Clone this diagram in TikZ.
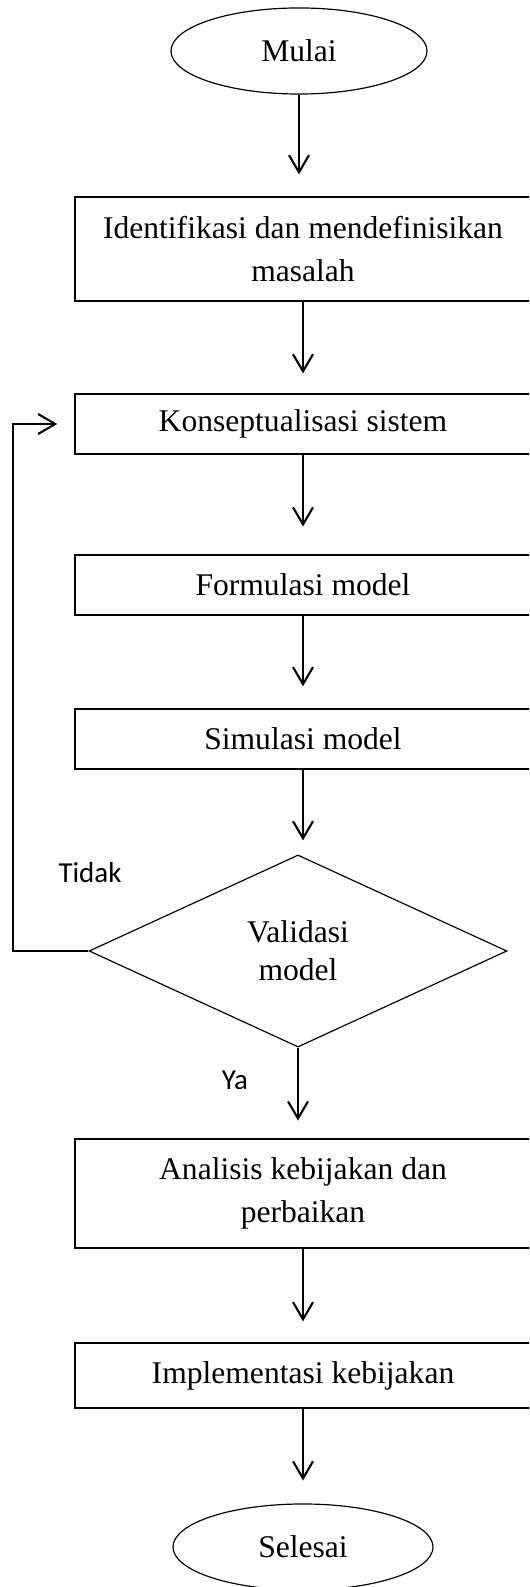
\documentclass[tikz,border=0pt]{standalone}
\usepackage{fontspec}
\setmainfont{Liberation Serif}
\newfontfamily\labelfont{Carlito}
\usetikzlibrary{shapes.geometric,arrows.meta}

\tikzset{
  proses/.style={draw, line width=0.45pt, rectangle, minimum width=173.3pt, align=center, inner sep=0pt, font=\fontsize{12}{16.3}\selectfont},
  terminal/.style={draw, line width=0.45pt, ellipse, minimum width=97.3pt, minimum height=32.7pt, font=\fontsize{12}{14}\selectfont},
  keputusan/.style={draw, line width=0.45pt, diamond, minimum width=158.8pt, minimum height=73pt, align=center, inner sep=0pt, font=\fontsize{12}{14.4}\selectfont},
  alur/.style={line width=0.8pt, -{Straight Barb[length=6.5pt,width=7.6pt]}},
  keterangan/.style={font=\labelfont\fontsize{11}{13}\selectfont}
}

\begin{document}
\begin{tikzpicture}[x=0.38pt, y=-0.38pt]
    \useasboundingbox (0,0) rectangle (529,1587);
    \clip (0,0) rectangle (529,1587);

    % Awal dan akhir
    \node[terminal] (mulai) at (299,51) {Mulai};
    \node[terminal, minimum width=98.8pt] (selesai) at (303,1547) {Selesai};

    % Tahapan
    \node[proses, minimum height=39.5pt] (identifikasi) at (303,249) {Identifikasi dan mendefinisikan\\masalah};
    \node[proses, minimum height=22.8pt] (konsep) at (303,424) {Konseptualisasi sistem};
    \node[proses, minimum height=22.8pt] (formulasi) at (303,585) {Formulasi model};
    \node[proses, minimum height=22.8pt] (simulasi) at (303,739) {Simulasi model};
    \node[keputusan] (validasi) at (298,951) {Validasi\\model};
    \node[proses, minimum height=41.4pt] (analisis) at (303,1193.5) {Analisis kebijakan dan\\perbaikan};
    \node[proses, minimum height=24.7pt] (implementasi) at (303,1375.5) {Implementasi kebijakan};

    % Keterangan cabang
    \node[keterangan] (tidak) at (90,873) {Tidak};
    \node[keterangan] (ya) at (235,1080) {Ya};

    % Panah ke bawah
    \foreach \a/\b/\s in {mulai/identifikasi/8.4, identifikasi/konsep/7.6,
        konsep/formulasi/10.6, formulasi/simulasi/8.4, simulasi/validasi/5.3,
        validasi/analisis/6.8, analisis/implementasi/8, implementasi/selesai/8.7} {
        \draw[alur, shorten >=\s pt] (\a) -- (\a |- \b.north);
    }

    % Umpan balik jika tidak valid
    \coordinate (balik) at (13,951);
    \draw[alur, shorten >=6.5pt] (validasi.west) -- (balik) |- (konsep.west);

\end{tikzpicture}
\end{document}
